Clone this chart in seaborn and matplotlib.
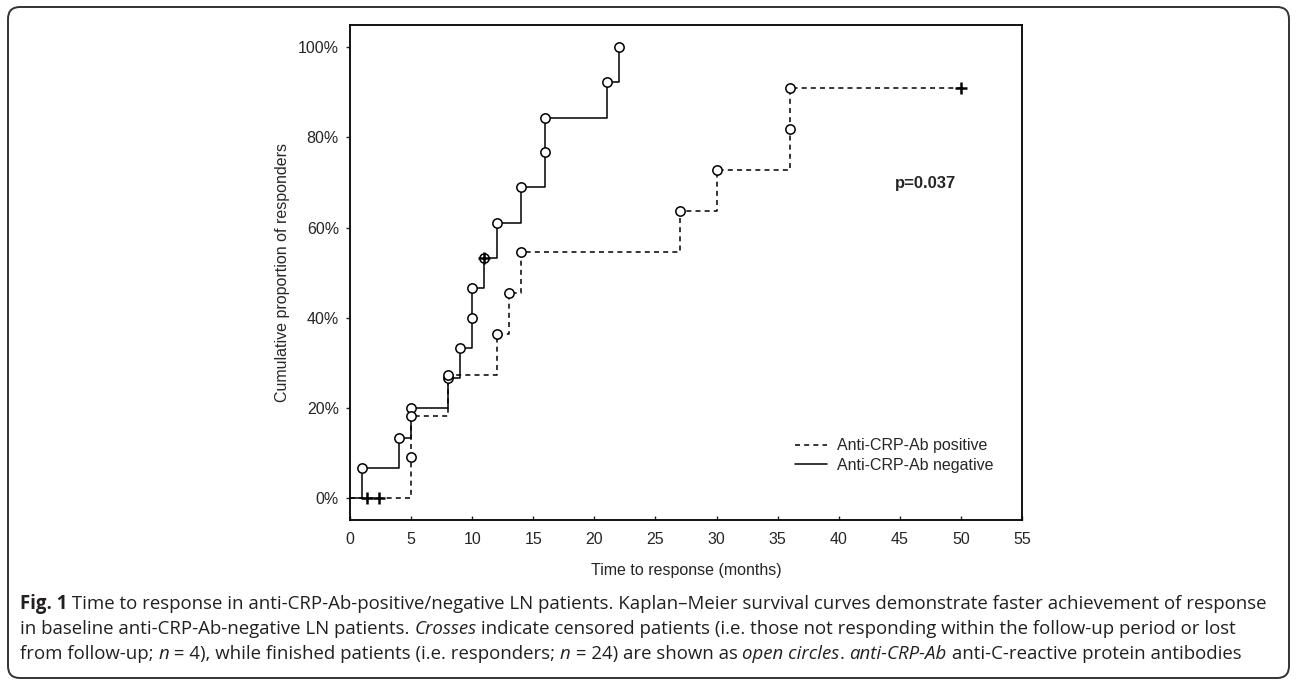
import numpy as np
import pandas as pd
import matplotlib
matplotlib.use("Agg")
import matplotlib.pyplot as plt
import seaborn as sns
from matplotlib.patches import FancyBboxPatch

# values (months, cumulative % of responders)
neg_months = [0, 1, 4, 5, 8, 9, 10, 10, 11, 12, 14, 16, 16, 21, 22]
neg_cum = [0, 6.7, 13.3, 20.0, 26.7, 33.3, 40.0, 46.7, 53.3, 61.1, 68.9, 76.7, 84.4, 92.2, 100.0]
neg_censor_months = [11]
neg_censor_cum = [53.3]

pos_months = [0, 5, 5, 8, 12, 13, 14, 27, 30, 36, 36, 50]
pos_cum = [0, 9.1, 18.2, 27.3, 36.4, 45.5, 54.5, 63.6, 72.7, 81.8, 90.9, 90.9]
pos_censor_months = [1.4, 2.4, 50]
pos_censor_cum = [0, 0, 90.9]

labels = ["Anti-CRP-Ab positive", "Anti-CRP-Ab negative"]
y_ticks = [0, 20, 40, 60, 80, 100]
x_ticks = list(range(0, 60, 5))

sns.set_style("white")
plt.rcParams["font.family"] = ["Liberation Sans", "DejaVu Sans"]
plt.rcParams["lines.scale_dashes"] = False

fig = plt.figure(figsize=(12.96, 6.82), dpi=100)
ax = fig.add_axes([350 / 1296, 1 - 520 / 682, 672 / 1296, 495 / 682])

neg = pd.DataFrame({"months": neg_months, "cum": neg_cum})
pos = pd.DataFrame({"months": pos_months, "cum": pos_cum})

sns.lineplot(data=pos, x="months", y="cum", ax=ax, estimator=None, sort=False,
             drawstyle="steps-post", color="black", linewidth=1.1,
             linestyle=(0, (3.6, 3.0)), label=labels[0])
sns.lineplot(data=neg, x="months", y="cum", ax=ax, estimator=None, sort=False,
             drawstyle="steps-post", color="black", linewidth=1.1,
             linestyle="-", label=labels[1])

# open circles at responders (skip the starting point)
sns.scatterplot(x=neg_months[1:], y=neg_cum[1:], ax=ax, marker="o", s=45,
                color="white", edgecolor="black", linewidth=1.1, zorder=3)
sns.scatterplot(x=pos_months[1:-1], y=pos_cum[1:-1], ax=ax, marker="o", s=45,
                color="white", edgecolor="black", linewidth=1.1, zorder=3)
# crosses at censored patients
sns.scatterplot(x=neg_censor_months + pos_censor_months,
                y=neg_censor_cum + pos_censor_cum, ax=ax, marker="+", s=70,
                color="black", linewidth=1.8, zorder=4)

ax.set_xlim(0, 55)
ax.set_ylim(-4.8, 104.9)
ax.set_xticks(x_ticks)
ax.set_yticks(y_ticks)
ax.set_yticklabels([f"{v}%" for v in y_ticks])
ax.tick_params(axis="x", direction="in", length=3, width=1, pad=9, labelsize=11.5, bottom=True)
ax.tick_params(axis="y", direction="out", length=3, width=1, pad=5, labelsize=11.5, left=True)
for s in ax.spines.values():
    s.set_linewidth(1.3)
    s.set_color("black")

ax.set_xlabel("Time to response (months)", fontsize=11.5)
ax.set_ylabel("Cumulative proportion of responders", fontsize=11.5)
ax.xaxis.set_label_coords(0.5, -0.087)
ax.yaxis.set_label_coords(-0.089, 0.5)

ax.text(44.6, 69.8, "p=0.037", fontsize=12, fontweight="bold", va="center", ha="left")

ax.legend(loc="lower right", bbox_to_anchor=(0.957, 0.095), frameon=False,
          fontsize=11.5, handlelength=2.0, handletextpad=0.6, borderpad=0,
          borderaxespad=0, labelspacing=0.3)

# rounded frame around figure + caption
frame = FancyBboxPatch((0.08, 0.04), 12.81, 6.71,
                       boxstyle="round,pad=0,rounding_size=0.12",
                       transform=fig.dpi_scale_trans, fill=False,
                       edgecolor="#333333", linewidth=1.4)
fig.patches.append(frame)

cap_lines = [
    [("Fig. 1", "bold"), (" Time to response in anti-CRP-Ab-positive/negative LN patients. Kaplan\u2013Meier survival curves demonstrate faster achievement of response", "normal")],
    [("in baseline anti-CRP-Ab-negative LN patients. ", "normal"), ("Crosses", "italic"),
     (" indicate censored patients (i.e. those not responding within the follow-up period or lost", "normal")],
    [("from follow-up; ", "normal"), ("n", "italic"), (" = 4), while finished patients (i.e. responders; ", "normal"),
     ("n", "italic"), (" = 24) are shown as ", "normal"), ("open circles", "italic"), (". ", "normal"),
     ("anti-CRP-Ab", "italic"), (" anti-C-reactive protein antibodies", "normal")],
]
cap_y = [604, 629, 654]
cap_font = "Open Sans"
cap_size = 13.4
renderer = fig.canvas.get_renderer()


def seg_width(txt, style):
    kw = dict(fontsize=cap_size, family=cap_font)
    if style == "bold":
        kw["fontweight"] = "bold"
    if style == "italic":
        kw["fontstyle"] = "italic"
    # pad with bars so leading/trailing spaces are counted
    a = fig.text(0, 0, "|" + txt + "|", **kw)
    b = fig.text(0, 0, "||", **kw)
    w = a.get_window_extent(renderer).width - b.get_window_extent(renderer).width
    a.remove()
    b.remove()
    return w, kw


for line, yp in zip(cap_lines, cap_y):
    xp = 20
    for txt, style in line:
        w, kw = seg_width(txt, style)
        fig.text(xp / 1296, 1 - yp / 682, txt, va="center", ha="left", color="#231f20", **kw)
        xp += w

fig.savefig("out.png", dpi=100)
